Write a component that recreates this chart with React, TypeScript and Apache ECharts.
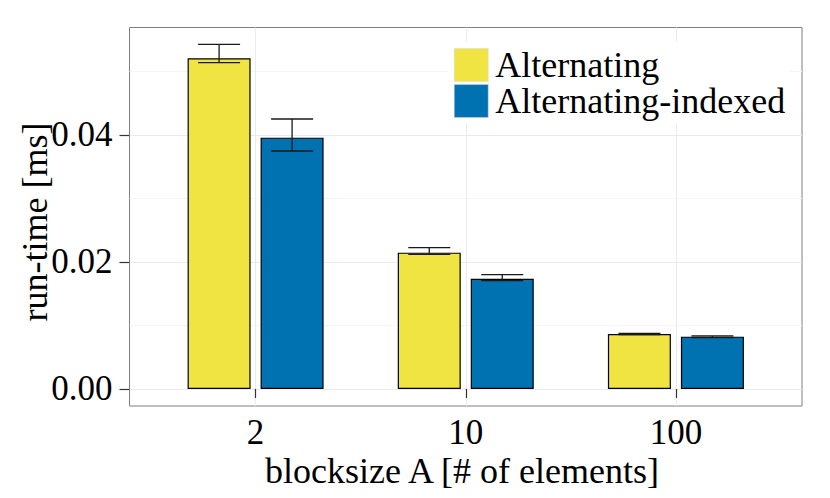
import React, { useEffect, useRef } from "react";
import * as echarts from "echarts";

const categories = ["2", "10", "100"];
const seriesNames = ["Alternating", "Alternating-indexed"];
const alternating = [0.05208, 0.02147, 0.00866];
const alternatingIndexed = [0.03958, 0.01737, 0.00824];
const alternatingLow = [0.05139, 0.02121, 0.00856];
const alternatingHigh = [0.05428, 0.02225, 0.00877];
const indexedLow = [0.03748, 0.01706, 0.00811];
const indexedHigh = [0.04252, 0.018, 0.00835];
const yMajorTicks = [0, 0.02, 0.04];
const yMinorTicks = [0.01, 0.03, 0.05];

const FONT = "'Liberation Serif', 'Times New Roman', serif";
const COLORS = ["#F0E442", "#0072B2"];
const BAR_W = 63;
const BAR_GAP = 10;

export default function App() {
  const ref = useRef<HTMLDivElement>(null);
  useEffect(() => {
    if (!ref.current) return;
    const chart = echarts.init(ref.current, undefined, { renderer: "svg" });
    const xs = categories.map((_, i) => i + 1);
    const errSeries = (lo: number[], hi: number[], sign: number, name: string) => ({
      type: "custom",
      name,
      z: 5,
      silent: true,
      data: xs.map((x, i) => [x, lo[i], hi[i]]),
      renderItem: (params: any, api: any) => {
        const x = api.value(0);
        const pLo = api.coord([x, api.value(1)]);
        const pHi = api.coord([x, api.value(2)]);
        const cx = pLo[0] + sign * (BAR_W + BAR_GAP) / 2;
        const hw = 21;
        const st = { stroke: "#1a1a1a", lineWidth: 1.3 };
        return {
          type: "group",
          children: [
            { type: "line", shape: { x1: cx, y1: pLo[1], x2: cx, y2: pHi[1] }, style: st },
            { type: "line", shape: { x1: cx - hw, y1: pLo[1], x2: cx + hw, y2: pLo[1] }, style: st },
            { type: "line", shape: { x1: cx - hw, y1: pHi[1], x2: cx + hw, y2: pHi[1] }, style: st },
          ],
        };
      },
    });
    const option: any = {
      animation: false,
      textStyle: { fontFamily: FONT },
      grid: {
        left: 129.5,
        top: 27.5,
        right: 28,
        bottom: 92,
        show: true,
        borderColor: "#7f7f7f",
        borderWidth: 1,
        backgroundColor: "#ffffff",
      },
      legend: {
        data: seriesNames,
        orient: "vertical",
        left: 449,
        top: 42,
        padding: 5,
        itemWidth: 34,
        itemHeight: 33,
        itemGap: 0,
        icon: "rect",
        backgroundColor: "#ffffff",
        itemStyle: { borderColor: "#d9d9d9", borderWidth: 0.5 },
        textStyle: { fontFamily: FONT, fontSize: 36, color: "#000", padding: [0, 0, 0, 2] },
      },
      xAxis: {
        type: "value",
        min: 0.4,
        max: 3.6,
        axisLine: { show: false },
        axisTick: { show: true, customValues: xs, length: 9, lineStyle: { color: "#333", width: 1.2 } },
        axisLabel: {
          customValues: xs,
          formatter: (v: number) => categories[Math.round(v) - 1] ?? "",
          fontSize: 35,
          lineHeight: 28,
          color: "#000",
          margin: 12,
          fontFamily: FONT,
        },
        splitLine: { show: true, lineStyle: { color: "#ebebeb", width: 1 } },
      },
      yAxis: [
        {
          type: "value",
          min: -0.00268,
          max: 0.05693,
          axisLine: { show: false },
          axisTick: { show: true, customValues: yMajorTicks, length: 10, lineStyle: { color: "#333", width: 1.2 } },
          axisLabel: {
            customValues: yMajorTicks,
            formatter: (v: number) => v.toFixed(2),
            fontSize: 35,
            color: "#000",
            margin: 17,
            fontFamily: FONT,
          },
          splitLine: { show: true, lineStyle: { color: "#ebebeb", width: 1 } },
        },
        {
          type: "value",
          min: -0.00268,
          max: 0.05693,
          position: "left",
          axisLine: { show: false },
          axisTick: { show: false, customValues: yMinorTicks },
          axisLabel: { show: false, customValues: yMinorTicks },
          splitLine: { show: true, lineStyle: { color: "#f5f5f5", width: 1 } },
        },
      ],
      graphic: [
        {
          type: "text",
          x: 35,
          y: 222,
          rotation: Math.PI / 2,
          style: {
            text: "run-time [ms]",
            font: `36px ${FONT}`,
            fill: "#000",
            textAlign: "center",
            textVerticalAlign: "middle",
          },
        },
        {
          type: "text",
          x: 462,
          y: 471,
          style: {
            text: "blocksize A [# of elements]",
            font: `36px ${FONT}`,
            lineHeight: 30,
            fill: "#000",
            textAlign: "center",
            textVerticalAlign: "middle",
          },
        },
      ],
      series: [
        {
          type: "bar",
          name: seriesNames[0],
          data: xs.map((x, i) => [x, alternating[i]]),
          barWidth: BAR_W,
          barGap: `${(BAR_GAP / BAR_W) * 100}%`,
          itemStyle: { color: COLORS[0], borderColor: "#000", borderWidth: 1.2 },
        },
        {
          type: "bar",
          name: seriesNames[1],
          data: xs.map((x, i) => [x, alternatingIndexed[i]]),
          barWidth: BAR_W,
          barGap: `${(BAR_GAP / BAR_W) * 100}%`,
          itemStyle: { color: COLORS[1], borderColor: "#000", borderWidth: 1.2 },
        },
        errSeries(alternatingLow, alternatingHigh, -1, "err-a"),
        errSeries(indexedLow, indexedHigh, 1, "err-b"),
      ],
    };
    chart.setOption(option);
    return () => chart.dispose();
  }, []);
  return (
    <div
      ref={ref}
      style={{ position: "fixed", left: 0, top: 0, width: 830, height: 498, background: "#fff" }}
    />
  );
}
